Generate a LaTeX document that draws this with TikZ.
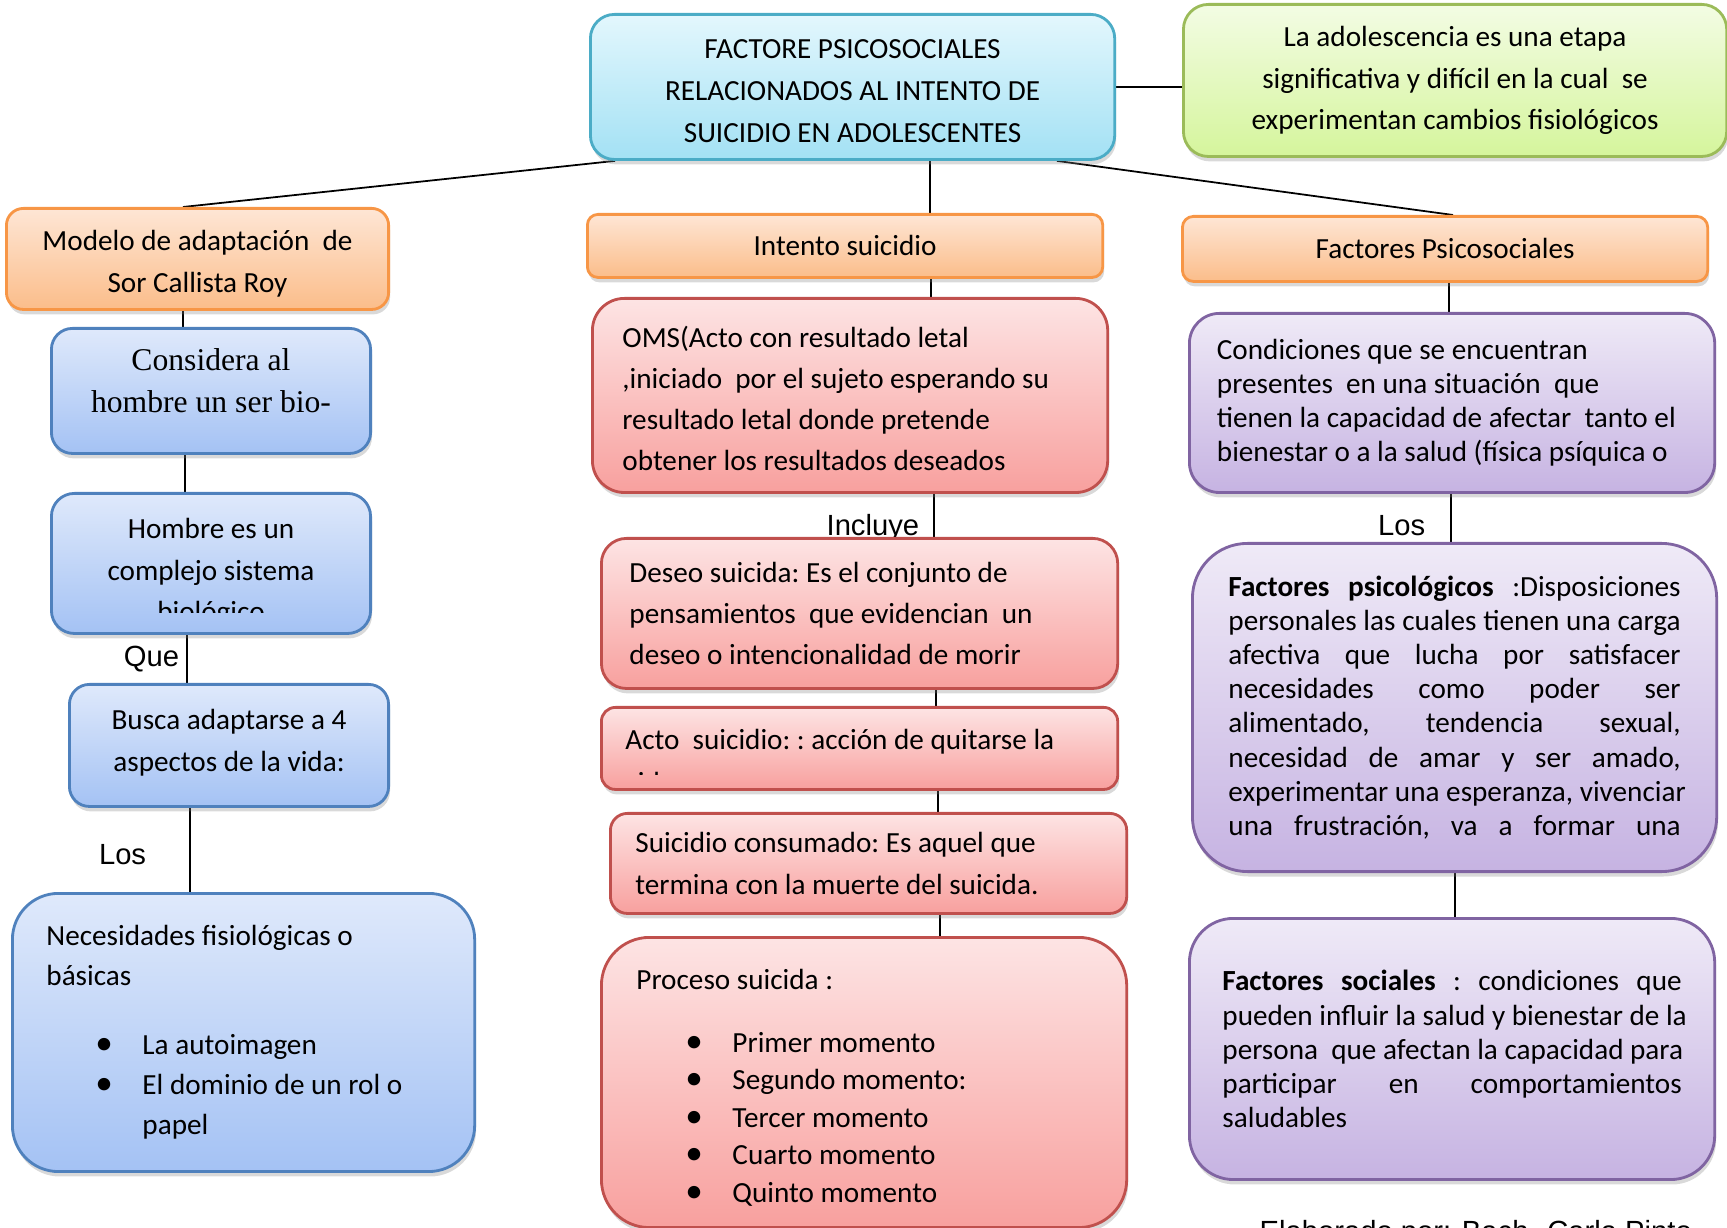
\documentclass[tikz,border=0pt]{standalone}
\usepackage{fontspec}
\setmainfont{Carlito}
\newfontfamily\arialfont{Liberation Sans}
\newfontfamily\timesfont{Liberation Serif}
\usetikzlibrary{positioning, shadows}

\definecolor{aquaB}{HTML}{4BACC6}
\definecolor{aquaT}{HTML}{E3F7FD}
\definecolor{aquaD}{HTML}{A3E1F4}
\definecolor{orgB}{HTML}{F79646}
\definecolor{orgT}{HTML}{FEE6D5}
\definecolor{orgD}{HTML}{FBBD8A}
\definecolor{bluB}{HTML}{4F81BD}
\definecolor{bluT}{HTML}{DFE9FB}
\definecolor{bluD}{HTML}{A4C2F4}
\definecolor{redB}{HTML}{C0504D}
\definecolor{redT}{HTML}{FDE4E4}
\definecolor{redD}{HTML}{F8A09E}
\definecolor{purB}{HTML}{8064A2}
\definecolor{purT}{HTML}{EFEAF7}
\definecolor{purD}{HTML}{C6B3E2}
\definecolor{grnB}{HTML}{9BBB59}
\definecolor{grnT}{HTML}{F3FCE4}
\definecolor{grnD}{HTML}{D5F59C}

\pgfdeclarelayer{bg}
\pgfsetlayers{bg,main}

\newcommand{\jl}[2][4.52cm]{\makebox[#1][s]{\spaceskip=\fontdimen2\font plus 1fil\relax #2}}
\newcommand{\bul}{\hspace*{0.49cm}\makebox[0.47cm][l]{\fontsize{10}{10}\selectfont\textbullet}}
\newcommand{\wordsp}{\spaceskip=\fontdimen2\font\relax\frenchspacing}

\begin{document}
\begin{tikzpicture}[x=0.01cm, y=-0.01cm,
    tbox/.style={draw, line width=0.8pt, inner sep=0pt, anchor=north west,
      execute at begin node=\wordsp,
      drop shadow={opacity=0.3, shadow xshift=0.4pt, shadow yshift=-1.4pt}},
    aquabox/.style={tbox, draw=aquaB, top color=aquaT, bottom color=aquaD},
    orgbox/.style={tbox, draw=orgB, top color=orgT, bottom color=orgD},
    blubox/.style={tbox, draw=bluB, top color=bluT, bottom color=bluD},
    redbox/.style={tbox, draw=redB, top color=redT, bottom color=redD},
    purbox/.style={tbox, draw=purB, top color=purT, bottom color=purD},
    grnbox/.style={tbox, draw=grnB, top color=grnT, bottom color=grnD},
    txt/.style={font=\fontsize{8.3}{#1}\selectfont},
    lbl/.style={font=\arialfont\fontsize{8.3}{10}\selectfont, inner sep=0pt, anchor=base east},
    conn/.style={draw=black, line width=0.5pt}]

  \useasboundingbox (0,0) rectangle (1727,1228);
  \clip (0,0) rectangle (1727,1228);

  % top of the map
  \node[aquabox, minimum width=5.24cm, minimum height=1.45cm, rounded corners=2.4mm,
        text width=5cm, align=center, txt=11.9pt] (titulo) at (589,13)
        {\rule{0pt}{7.6pt}FACTORE PSICOSOCIALES\\RELACIONADOS AL INTENTO DE\\SUICIDIO EN ADOLESCENTES};
  \node[grnbox, minimum width=5.43cm, minimum height=1.52cm, rounded corners=2.5mm,
        text width=5.2cm, align=center, txt=11.8pt] (adoles) at (1182,3)
        {La adolescencia es una etapa\\significativa y difícil en la cual~ se\\experimentan cambios fisiológicos};

  % headings
  \node[orgbox, minimum width=3.82cm, minimum height=1.01cm, rounded corners=1.7mm,
        text width=3.6cm, align=center, txt=11.9pt] (modelo) at (5,207)
        {\rule{0pt}{8.4pt}Modelo de adaptación~ de\\Sor Callista Roy};
  \node[orgbox, minimum width=5.15cm, minimum height=0.63cm, rounded corners=1.05mm,
        text width=5cm, align=center, txt=11.4pt] (intento) at (586,213) {Intento suicidio};
  \node[orgbox, minimum width=5.25cm, minimum height=0.65cm, rounded corners=1.1mm,
        text width=5cm, align=center, txt=11.4pt] (factores) at (1181,215) {Factores Psicosociales};

  % left column
  \node[blubox, minimum width=3.19cm, minimum height=1.25cm, rounded corners=2.1mm,
        text width=3cm, align=center, font=\timesfont\fontsize{9}{12.2}\selectfont] (considera) at (50,327)
        {Considera al\\hombre un ser bio-\\[-0.22cm]\mbox{}};
  \node[blubox, minimum width=3.19cm, minimum height=1.40cm, rounded corners=2.3mm,
        text width=3cm, align=center, txt=11.9pt] (hombre) at (50,492)
        {Hombre es un\\complejo sistema\\[-0.13cm]\mbox{}};
  \node[blubox, minimum width=3.19cm, minimum height=1.22cm, rounded corners=2mm,
        text width=3cm, align=center, txt=11.9pt] (busca) at (68,683)
        {Busca adaptarse a 4\\aspectos de la vida:\\[-0.32cm]\mbox{}};
  \node[blubox, minimum width=4.62cm, minimum height=2.78cm, rounded corners=4.6mm,
        text width=3.94cm, align=left, txt=11.4pt] (neces) at (11,892)
        {Necesidades fisiológicas o\\básicas\\[0.29cm]
         \bul La autoimagen\\
         \bul El dominio de un rol o\\
         \hspace*{0.96cm}papel};

  % middle column
  \node[redbox, minimum width=5.15cm, minimum height=1.94cm, rounded corners=3.2mm,
        text width=4.55cm, align=left, txt=11.7pt] (oms) at (591,297)
        {\rule{0pt}{7.8pt}OMS(Acto con resultado letal\\,iniciado~ por el sujeto esperando su\\resultado letal donde pretende\\obtener los resultados deseados};
  \node[redbox, minimum width=5.16cm, minimum height=1.50cm, rounded corners=2.5mm,
        text width=4.60cm, align=left, txt=11.7pt] (deseo) at (600,537)
        {Deseo suicida: Es el conjunto de\\pensamientos~ que evidencian~ un\\deseo o intencionalidad de morir};
  \node[redbox, minimum width=5.16cm, minimum height=0.82cm, rounded corners=1.4mm,
        text width=4.68cm, align=left, txt=11.7pt] (acto) at (600,706)
        {Acto~ suicidio: : acción de quitarse la\\[-0.24cm]\mbox{}};
  \node[redbox, minimum width=5.16cm, minimum height=1.00cm, rounded corners=1.7mm,
        text width=4.66cm, align=left, txt=11.7pt] (consumado) at (609,812)
        {Suicidio consumado: Es aquel que\\termina con la muerte del suicida.};
  \node[redbox, minimum width=5.25cm, minimum height=2.90cm, rounded corners=4.8mm,
        text width=4.55cm, align=left, txt=10.7pt] (proceso) at (600,936)
        {\rule{0pt}{8.8pt}Proceso suicida :\\[0.25cm]
         \bul Primer momento\\
         \bul Segundo momento:\\
         \bul Tercer momento\\
         \bul Cuarto momento\\
         \bul Quinto momento};

  % right column
  \node[purbox, minimum width=5.25cm, minimum height=1.79cm, rounded corners=3mm,
        text width=4.70cm, align=left, txt=9.7pt] (condic) at (1188,312)
        {Condiciones que se encuentran\\presentes~ en una situación~ que\\tienen la capacidad de afectar~ tanto el\\bienestar o a la salud (física psíquica o};
  \node[purbox, minimum width=5.24cm, minimum height=3.28cm, rounded corners=5.5mm,
        text width=4.52cm, align=left, txt=9.7pt] (psico) at (1191,542)
        {\jl{\textbf{Factores psicológicos} :Disposiciones}\\
         \jl{personales las cuales tienen una carga}\\
         \jl{afectiva que lucha por satisfacer}\\
         \jl{necesidades como poder ser}\\
         \jl{alimentado, tendencia sexual,}\\
         \jl{necesidad de amar y ser amado,}\\
         \jl{experimentar una esperanza, vivenciar}\\
         \jl{una frustración, va a formar una}};
  \node[purbox, minimum width=5.25cm, minimum height=2.61cm, rounded corners=4.4mm,
        text width=4.59cm, align=left, txt=9.7pt] (social) at (1188,917)
        {\jl[4.59cm]{\textbf{Factores sociales} : condiciones que}\\
         \jl[4.59cm]{pueden influir la salud y bienestar de la}\\
         \jl[4.59cm]{persona~ que afectan la capacidad para}\\
         \jl[4.59cm]{participar en comportamientos}\\
         saludables};

  % clipped lines of text
  \begin{scope}
    \clip (hombre.west |- 0,560) rectangle (hombre.east |- 0,613);
    \node[anchor=base, inner sep=0pt, txt=11.9pt] (hombre3) at (hombre.center |- 0,622) {biológico};
  \end{scope}
  \begin{scope}
    \clip (acto.west |- 0,760) rectangle (acto.east |- 0,775);
    \node[anchor=base west, inner sep=0pt, txt=11.7pt] (acto2) at (624,793) {vida};
  \end{scope}

  \node[anchor=base west, inner sep=0pt, font=\arialfont\fontsize{8.3}{10}\selectfont] (autor) at (1259,1241)
        {Elaborado por: Bach. Carla Pinto};

  % connectors
  \begin{pgfonlayer}{bg}
    \draw[conn] (titulo.east |- 0,87) -- (adoles.west |- 0,87);
    \draw[conn] (titulo.south -| 615,0) -- (modelo.north -| 183,0);
    \draw[conn] (titulo.south -| 930,0) -- (intento.north -| 930,0);
    \draw[conn] (titulo.south -| 1057,0) -- (factores.north -| 1453,0);

    \draw[conn] (modelo.south -| 183,0) -- (considera.north -| 183,0);
    \draw[conn] (considera.south -| 185,0) -- (hombre.north -| 185,0);
    \path[conn] (hombre.south -| 187,0) edge node[lbl, pos=0.65, xshift=-0.07cm] {Que} (busca.north -| 187,0);
    \path[conn] (busca.south -| 190,0) edge node[lbl, pos=0.67, xshift=-0.43cm] {Los} (neces.north -| 190,0);

    \draw[conn] (intento.south -| 931,0) -- (oms.north -| 931,0);
    \path[conn] (oms.south -| 934,0) edge node[lbl, pos=0.96, xshift=-0.14cm] {Incluye} (deseo.north -| 934,0);
    \draw[conn] (deseo.south -| 936,0) -- (acto.north -| 936,0);
    \draw[conn] (acto.south -| 938,0) -- (consumado.north -| 938,0);
    \draw[conn] (consumado.south -| 940,0) -- (proceso.north -| 940,0);

    \draw[conn] (factores.south -| 1449,0) -- (condic.north -| 1449,0);
    \path[conn] (condic.south -| 1451,0) edge node[lbl, pos=0.86, xshift=-0.25cm] {Los} (psico.north -| 1451,0);
    \draw[conn] (psico.south -| 1455,0) -- (social.north -| 1455,0);
  \end{pgfonlayer}
\end{tikzpicture}
\end{document}
